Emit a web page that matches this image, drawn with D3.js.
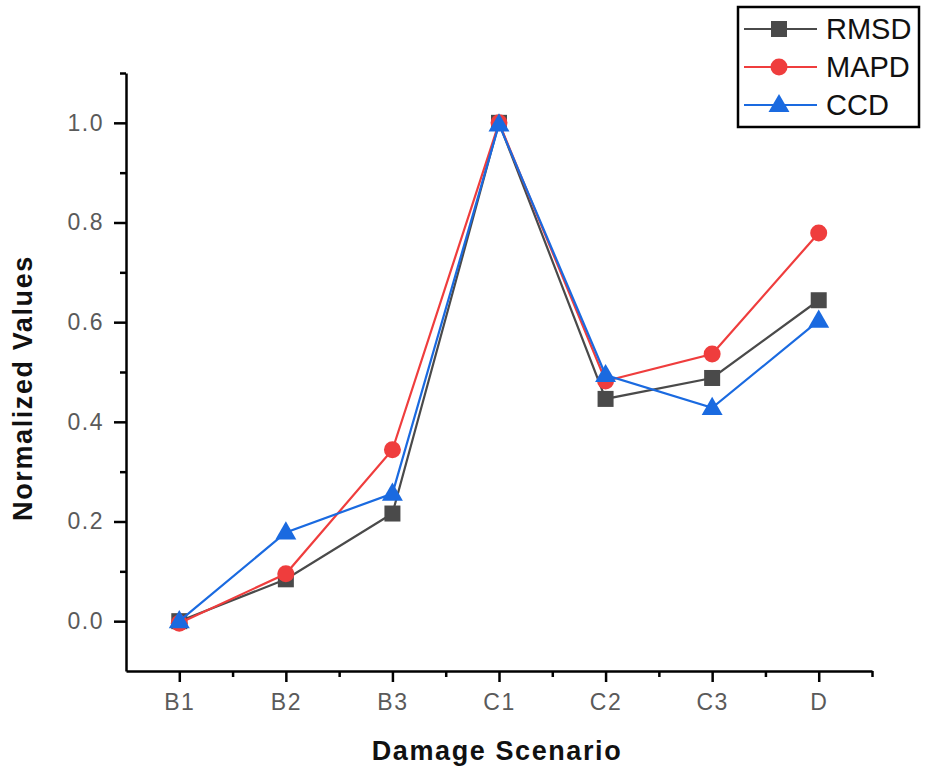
<!DOCTYPE html>
<html lang="en">
<head>
  <meta charset="UTF-8">
  <title>Normalized Values by Damage Scenario</title>
  <script src="https://d3js.org/d3.v7.min.js"></script>
  <style>
    body {
      margin: 0;
      background: #fff;
      font-family: "Liberation Sans", Arial, sans-serif;
    }
    .axis path, .axis line {
      stroke: #000;
      stroke-width: 2.5px;
    }
    .axis text {
      font-family: "Liberation Sans", Arial, sans-serif;
      font-size: 23px;
      fill: #5a5a5a;
      letter-spacing: 1.5px;
    }
    .title {
      font-family: "Liberation Sans", Arial, sans-serif;
      font-size: 27px;
      font-weight: bold;
      letter-spacing: 1.6px;
      fill: #111;
    }
    .legend-text {
      font-family: "Liberation Sans", Arial, sans-serif;
      font-size: 29px;
      fill: #111;
    }
  </style>
</head>
<body>
  <div id="chart"></div>

  <script>
    // data
    const scenarios = ["B1", "B2", "B3", "C1", "C2", "C3", "D"];
    const rmsd = [0, 0.084, 0.216, 1.0, 0.446, 0.488, 0.644];
    const mapd = [-0.004, 0.095, 0.344, 1.0, 0.482, 0.536, 0.779];
    const ccd = [0, 0.178, 0.256, 0.997, 0.494, 0.428, 0.603];
    const yTicks = [0.0, 0.2, 0.4, 0.6, 0.8, 1.0];
    const yMinor = [0.1, 0.3, 0.5, 0.7, 0.9, 1.1];

    const series = [
      { name: "RMSD", values: rmsd, color: "#4a4a4a", shape: "square" },
      { name: "MAPD", values: mapd, color: "#ef3d3d", shape: "circle" },
      { name: "CCD", values: ccd, color: "#1a6ae0", shape: "triangle" }
    ];

    const W = 926, H = 772;
    const margin = { top: 73, right: 54, bottom: 101, left: 126 };
    const width = W - margin.left - margin.right;
    const height = H - margin.top - margin.bottom;

    const svg = d3.select("#chart").append("svg")
      .attr("width", W)
      .attr("height", H);

    const g = svg.append("g")
      .attr("transform", `translate(${margin.left},${margin.top})`);

    // categories sit on integer positions, axis spans half a step beyond
    const x = d3.scaleLinear()
      .domain([0.5, scenarios.length + 0.5])
      .range([0, width]);

    const y = d3.scaleLinear()
      .domain([-0.1, 1.1])
      .range([height, 0]);

    const xMajor = scenarios.map((d, i) => i + 1);
    const xMinor = d3.range(1.5, scenarios.length + 1, 1);

    // minor ticks first
    g.append("g")
      .attr("class", "axis")
      .attr("transform", `translate(0,${height})`)
      .call(d3.axisBottom(x).tickValues(xMinor).tickSize(6).tickFormat(""))
      .select(".domain").remove();

    g.append("g")
      .attr("class", "axis")
      .call(d3.axisLeft(y).tickValues(yMinor).tickSize(6).tickFormat(""))
      .select(".domain").remove();

    g.append("g")
      .attr("class", "axis")
      .attr("transform", `translate(0,${height})`)
      .call(d3.axisBottom(x).tickValues(xMajor).tickSize(11).tickSizeOuter(0).tickPadding(12)
        .tickFormat(d => scenarios[d - 1]));

    g.append("g")
      .attr("class", "axis")
      .call(d3.axisLeft(y).tickValues(yTicks).tickSize(12).tickSizeOuter(0).tickPadding(10)
        .tickFormat(d3.format(".1f")));

    // axis titles
    svg.append("text")
      .attr("class", "title")
      .attr("x", 497)
      .attr("y", 760)
      .attr("text-anchor", "middle")
      .text("Damage Scenario");

    svg.append("text")
      .attr("class", "title")
      .attr("transform", "translate(32,388) rotate(-90)")
      .attr("text-anchor", "middle")
      .text("Normalized Values");

    const line = d3.line()
      .x((d, i) => x(i + 1))
      .y(d => y(d));

    function drawMarker(sel, shape, color, cx, cy) {
      if (shape === "square") {
        sel.append("rect")
          .attr("x", cx - 8).attr("y", cy - 8)
          .attr("width", 16).attr("height", 16)
          .attr("fill", color);
      } else if (shape === "circle") {
        sel.append("circle")
          .attr("cx", cx).attr("cy", cy).attr("r", 8.5)
          .attr("fill", color);
      } else {
        sel.append("path")
          .attr("d", d3.symbol().type(d3.symbolTriangle).size(190)())
          .attr("transform", `translate(${cx},${cy + 1})`)
          .attr("fill", color);
      }
    }

    series.forEach(s => {
      const sg = g.append("g");
      sg.append("path")
        .datum(s.values)
        .attr("fill", "none")
        .attr("stroke", s.color)
        .attr("stroke-width", 2.2)
        .attr("d", line);
      s.values.forEach((v, i) => drawMarker(sg, s.shape, s.color, x(i + 1), y(v)));
    });

    // legend
    const legend = svg.append("g");
    legend.append("rect")
      .attr("x", 738).attr("y", 7)
      .attr("width", 181).attr("height", 120)
      .attr("fill", "#fff")
      .attr("stroke", "#000")
      .attr("stroke-width", 2.5);

    series.forEach((s, i) => {
      const ly = 29 + i * 38;
      legend.append("line")
        .attr("x1", 744).attr("x2", 817)
        .attr("y1", ly).attr("y2", ly)
        .attr("stroke", s.color)
        .attr("stroke-width", 2.2);
      drawMarker(legend, s.shape, s.color, 779, ly);
      legend.append("text")
        .attr("class", "legend-text")
        .attr("x", 826)
        .attr("y", ly + 10)
        .text(s.name);
    });
  </script>
</body>
</html>
